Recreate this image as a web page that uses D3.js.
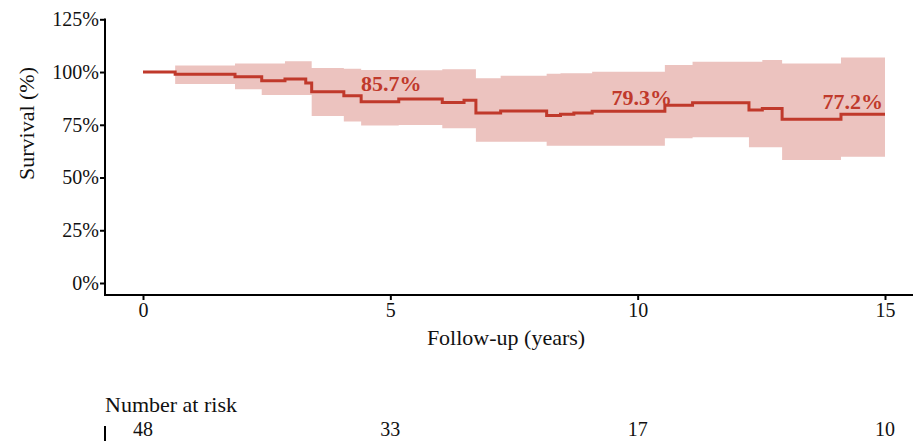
<!DOCTYPE html>
<html>
<head>
<meta charset="utf-8">
<script src="https://cdn.jsdelivr.net/npm/d3@7"></script>
<style>
  html, body { margin: 0; padding: 0; background: #fff; }
  svg { display: block; font-family: "Liberation Serif", "Times New Roman", serif; }
</style>
</head>
<body>
<svg id="chart" width="913" height="441"></svg>
<script>
// ---- data ----
const stepTimes = [0, 0.65, 1.86, 2.40, 2.87, 3.29, 3.41, 4.06, 4.41, 5.17, 6.05, 6.49, 6.73, 7.23, 8.16, 8.44, 8.71, 9.08, 10.55, 11.11, 12.25, 12.52, 12.92, 14.11];
const survival  = [100, 98.9, 97.8, 95.9, 96.7, 94.8, 90.6, 88.8, 85.9, 87.2, 85.6, 86.6, 80.6, 81.5, 79.4, 80.0, 80.6, 81.4, 84.2, 85.5, 82.0, 82.7, 77.6, 80.0];
const upperCI   = [100, 103.1, 104.1, 104.1, 105.1, 105.1, 101.9, 101.6, 101.0, 100.8, 101.3, 101.3, 97.0, 98.3, 99.2, 99.4, 99.4, 100.1, 103.3, 104.9, 104.9, 105.7, 104.1, 106.9];
const lowerCI   = [100, 94.3, 91.8, 89.1, 89.1, 89.1, 79.2, 76.6, 74.6, 74.9, 73.3, 73.3, 66.9, 66.9, 65.1, 65.1, 65.1, 65.1, 68.6, 69.1, 64.3, 64.3, 58.3, 59.9];
const followUpEnd = 15;

const labelTimes  = [5, 10, 15];
const labelValues = [85.7, 79.3, 77.2];
const labelTexts  = ["85.7%", "79.3%", "77.2%"];

const xTicks = [0, 5, 10, 15];
const yTicks = [0, 25, 50, 75, 100, 125];

const riskTimes  = [0, 5, 10, 15];
const riskCounts = [48, 33, 17, 10];

// ---- build ----
const red = "#c0392b";
const svg = d3.select("#chart");

const x = d3.scaleLinear().domain([0, 15]).range([143, 885]);
const y = d3.scaleLinear().domain([0, 125]).range([283, 19.3]);

const rows = stepTimes.map((t, i) => ({ t, s: survival[i], u: upperCI[i], l: lowerCI[i] }));
const last = rows[rows.length - 1];
rows.push({ t: followUpEnd, s: last.s, u: last.u, l: last.l });

// confidence band
const area = d3.area()
  .curve(d3.curveStepAfter)
  .x(d => x(d.t))
  .y0(d => y(d.l))
  .y1(d => y(d.u));
svg.append("path")
  .datum(rows)
  .attr("d", area)
  .attr("fill", red)
  .attr("fill-opacity", 0.3);

// survival curve
const line = d3.line()
  .curve(d3.curveStepAfter)
  .x(d => x(d.t))
  .y(d => y(d.s));
svg.append("path")
  .datum(rows)
  .attr("d", line)
  .attr("fill", "none")
  .attr("stroke", red)
  .attr("stroke-width", 3);

// labels
svg.append("g").selectAll("text")
  .data(labelTimes.map((t, i) => ({ t, v: labelValues[i], txt: labelTexts[i], i })))
  .join("text")
  .attr("x", d => d.i === labelTimes.length - 1 ? x(d.t) - 2 : x(d.t) + (d.i === 1 ? 4 : 1))
  .attr("y", d => y(d.v) - 11)
  .attr("text-anchor", d => d.i === labelTimes.length - 1 ? "end" : "middle")
  .attr("fill", red)
  .attr("font-weight", "bold")
  .attr("font-size", "22px")
  .text(d => d.txt);

// axes
const xAxis = d3.axisBottom(x).tickValues(xTicks).tickSize(5).tickPadding(3).tickFormat(d3.format("d"));
const gx = svg.append("g").attr("transform", "translate(0,295)").call(xAxis);
gx.select(".domain").remove();
gx.selectAll(".tick line").attr("stroke", "#000").attr("stroke-width", 2);
gx.selectAll(".tick text").attr("font-family", "Liberation Serif").attr("font-size", "20px").attr("fill", "#111");

const yAxis = d3.axisLeft(y).tickValues(yTicks).tickSize(5).tickPadding(1).tickFormat(d => d + "%");
const gy = svg.append("g").attr("transform", "translate(105,0)").call(yAxis);
gy.select(".domain").remove();
gy.selectAll(".tick line").attr("stroke", "#000").attr("stroke-width", 2);
gy.selectAll(".tick text").attr("font-family", "Liberation Serif").attr("font-size", "20px").attr("fill", "#111");

svg.append("line").attr("x1", 105).attr("x2", 105).attr("y1", 18.5).attr("y2", 296)
  .attr("stroke", "#000").attr("stroke-width", 2);
svg.append("line").attr("x1", 104).attr("x2", 913).attr("y1", 295).attr("y2", 295)
  .attr("stroke", "#000").attr("stroke-width", 2);

// axis titles
svg.append("text")
  .attr("x", 506).attr("y", 345)
  .attr("text-anchor", "middle")
  .attr("font-size", "22px").attr("fill", "#111")
  .text("Follow-up (years)");
svg.append("text")
  .attr("transform", "translate(33.5,123.5) rotate(-90)")
  .attr("text-anchor", "middle")
  .attr("font-size", "22px").attr("fill", "#111")
  .text("Survival (%)");

// number at risk table
svg.append("text")
  .attr("x", 105).attr("y", 411.5)
  .attr("font-size", "22px").attr("fill", "#111")
  .text("Number at risk");
svg.append("line").attr("x1", 105).attr("x2", 105).attr("y1", 426).attr("y2", 441)
  .attr("stroke", "#000").attr("stroke-width", 2);
svg.append("g").selectAll("text")
  .data(riskTimes.map((t, i) => ({ t, n: riskCounts[i] })))
  .join("text")
  .attr("x", d => x(d.t))
  .attr("y", 436)
  .attr("text-anchor", "middle")
  .attr("font-size", "20px").attr("fill", "#111")
  .text(d => d.n);
</script>
</body>
</html>
